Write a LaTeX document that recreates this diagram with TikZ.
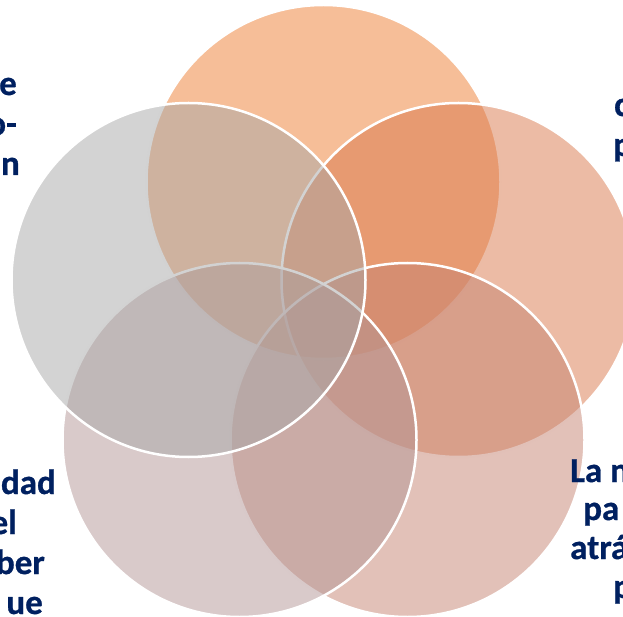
\documentclass[tikz,border=0pt]{standalone}
\usepackage{fontspec}
\setmainfont{Carlito}[BoldFeatures={FakeBold=0.8}]
\definecolor{cTop}{HTML}{ED7D31}
\definecolor{cRight}{HTML}{D9784C}
\definecolor{cBotR}{HTML}{C58371}
\definecolor{cBotL}{HTML}{B39595}
\definecolor{cLeft}{HTML}{A7A7A7}
\definecolor{navy}{HTML}{002060}
\begin{document}
\begin{tikzpicture}[x=1pt,y=-1pt,
  venn/.style={circle, minimum size=354pt, inner sep=0pt, draw=white, line width=2.5pt, fill opacity=0.5, draw opacity=1},
  lbl/.style={inner sep=0pt, text=navy, font=\fontsize{35}{40}\selectfont\bfseries}]
\useasboundingbox (0,0) rectangle (623,617);
\clip (0,0) rectangle (623,617);
\node[venn, fill=cTop]   (top)  at (323.5,182) {};
\node[venn, fill=cRight] (rgt)  at (458.5,280) {};
\node[venn, fill=cBotR]  (botr) at (407.5,440) {};
\node[venn, fill=cBotL]  (botl) at (239.5,440) {};
\node[venn, fill=cLeft]  (lft)  at (188.5,280) {};
% top-left fragments
\node[lbl, anchor=base east] (tl1) at (17,95) {e};
\node[lbl, anchor=base east] (tl2) at (17,135) {o-};
\node[lbl, anchor=base east] (tl3) at (20,175) {n};
% top-right fragments
\node[lbl, anchor=base west] (tr1) at (614,116) {c};
\node[lbl, anchor=base west] (tr2) at (613,156) {p};
% bottom-left fragments
\node[lbl, anchor=base east] (bl1) at (56,494) {dad};
\node[lbl, anchor=base east] (bl2) at (17,534) {el};
\node[lbl, anchor=base east] (bl3) at (45,574) {ber};
\node[lbl, anchor=base east] (bl4) at (43,614) {ue};
% bottom-right fragments
\node[lbl, anchor=base west] (br1) at (570,482) {La n};
\node[lbl, anchor=base west] (br2) at (583,520) {pa};
\node[lbl, anchor=base west] (br3) at (570,559) {atrá};
\node[lbl, anchor=base west] (br4) at (613,598) {p};
\end{tikzpicture}
\end{document}
